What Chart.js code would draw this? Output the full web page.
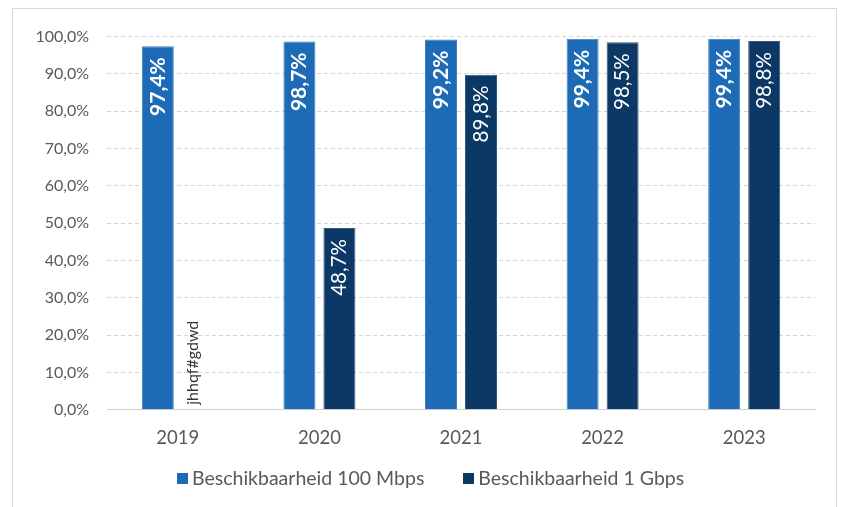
<!DOCTYPE html>
<html>
<head>
<meta charset="utf-8">
<script src="https://cdn.jsdelivr.net/npm/chart.js@4.4.1/dist/chart.umd.min.js"></script>
<style>
  html, body { margin: 0; padding: 0; background: #fff; }
  #frame { position: absolute; left: 12px; top: 8px; width: 823px; height: 510px; border: 1px solid #d9d9d9; }
  #wrap { position: absolute; left: 0; top: 0; width: 823px; height: 498px; }
  #legend { position: absolute; left: 164px; top: 457px; display: flex; gap: 39px;
            font-family: Lato, "Open Sans", sans-serif; font-size: 19.5px; color: #595959; line-height: 24px; }
  #legend .item { display: flex; align-items: center; white-space: nowrap; }
  #legend .box { width: 11px; height: 11px; margin-right: 4px; }
</style>
</head>
<body>
<div id="frame"><div id="wrap"><canvas id="chart"></canvas></div><div id="legend"></div></div>
<script>
// jaren op de x-as
const years = ['2019', '2020', '2021', '2022', '2023'];
// beschikbaarheid in procent
const avail100M = [97.4, 98.7, 99.2, 99.4, 99.4];
const avail1G = [0, 48.7, 89.8, 98.5, 98.8];
// label voor de lege balk in 2019 (zo staat het in het origineel)
const emptyLabel = 'jhhqf#gdwd';
const yTicks = [0, 10, 20, 30, 40, 50, 60, 70, 80, 90, 100];

const fmt = v => v.toFixed(1).replace('.', ',') + '%';
const FONT = 'Lato, "Open Sans", sans-serif';

// labels gedraaid in de balk, zoals Excel doet
const barLabels = {
  id: 'barLabels',
  afterDatasetsDraw(chart) {
    const ctx = chart.ctx;
    chart.data.datasets.forEach((ds, di) => {
      const meta = chart.getDatasetMeta(di);
      meta.data.forEach((bar, i) => {
        const v = ds.data[i];
        ctx.save();
        ctx.translate(bar.x, bar.y);
        ctx.rotate(-Math.PI / 2);
        ctx.textBaseline = 'middle';
        if (v === 0) {
          ctx.font = '16px ' + FONT;
          ctx.fillStyle = '#333333';
          ctx.textAlign = 'left';
          ctx.fillText(emptyLabel, 5, -5);
        } else {
          ctx.font = (di === 0 ? 'bold 21px ' : '20.5px ') + FONT;
          ctx.fillStyle = '#ffffff';
          ctx.textAlign = 'right';
          ctx.fillText(fmt(v), -11, 0);
        }
        ctx.restore();
      });
    });
  }
};

const chart = new Chart(document.getElementById('chart'), {
  type: 'bar',
  data: {
    labels: years,
    datasets: [
      { label: 'Beschikbaarheid 100 Mbps', data: avail100M, backgroundColor: '#1d6bb6', borderColor: '#3f80c2', borderWidth: 1,
        barPercentage: 0.8, categoryPercentage: 0.565 },
      { label: 'Beschikbaarheid 1 Gbps', data: avail1G, backgroundColor: '#0c3866', borderColor: '#34577f', borderWidth: 1,
        barPercentage: 0.8, categoryPercentage: 0.565 }
    ]
  },
  options: {
    responsive: true, maintainAspectRatio: false, animation: false,
    layout: { padding: { left: 0, right: 21, top: 22, bottom: 41 } },
    scales: {
      x: {
        grid: { display: false, drawTicks: false },
        border: { color: '#d0d0d0', width: 1 },
        ticks: { color: '#595959', font: { family: FONT, size: 18.5 }, padding: 17 }
      },
      y: {
        min: 0, max: 100,
        afterBuildTicks: s => { s.ticks = yTicks.map(v => ({ value: v })); },
        afterFit: s => { s.width = 94; },
        grid: { color: '#d6d6d6', drawTicks: false },
        border: { display: false, dash: [4, 3] },
        ticks: { color: '#595959', font: { family: FONT, size: 16 }, padding: 18, callback: v => fmt(v) }
      }
    },
    plugins: {
      legend: { display: false },
      tooltip: { enabled: false }
    }
  },
  plugins: [barLabels]
});

// legenda onder de grafiek, opgebouwd uit de datasets
const legendEl = document.getElementById('legend');
chart.data.datasets.forEach(ds => {
  const item = document.createElement('div');
  item.className = 'item';
  item.innerHTML = `<span class="box" style="background:${ds.backgroundColor}"></span><span>${ds.label}</span>`;
  legendEl.appendChild(item);
});
</script>
</body>
</html>
